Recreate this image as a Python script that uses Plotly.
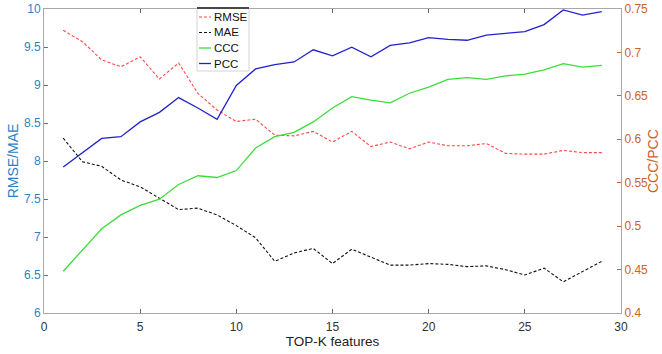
import plotly.graph_objects as go

# Number of top-K features used
k = list(range(1, 30))

# Error metrics (left axis)
rmse = [9.72, 9.57, 9.33, 9.24, 9.37, 9.08, 9.29, 8.89, 8.67, 8.52,
        8.55, 8.34, 8.33, 8.39, 8.25, 8.39, 8.19, 8.25, 8.16, 8.25,
        8.20, 8.20, 8.23, 8.10, 8.09, 8.09, 8.14, 8.11, 8.11]
mae = [8.30, 7.99, 7.93, 7.75, 7.66, 7.51, 7.36, 7.38, 7.29, 7.15,
       6.99, 6.68, 6.79, 6.85, 6.65, 6.84, 6.74, 6.63, 6.63, 6.65,
       6.64, 6.61, 6.62, 6.57, 6.50, 6.59, 6.41, 6.54, 6.68]

# Correlation metrics (right axis)
ccc = [0.448, 0.472, 0.497, 0.513, 0.524, 0.531, 0.548, 0.558, 0.556, 0.564,
       0.590, 0.603, 0.608, 0.620, 0.636, 0.649, 0.645, 0.642, 0.653, 0.660,
       0.669, 0.671, 0.669, 0.673, 0.675, 0.680, 0.687, 0.683, 0.685]
pcc = [0.568, 0.584, 0.601, 0.603, 0.620, 0.631, 0.648, 0.636, 0.623, 0.662,
       0.681, 0.686, 0.689, 0.703, 0.696, 0.706, 0.695, 0.708, 0.711, 0.717,
       0.715, 0.714, 0.720, 0.722, 0.724, 0.732, 0.749, 0.743, 0.747]

x_ticks = [0, 5, 10, 15, 20, 25, 30]
left_ticks = [6, 6.5, 7, 7.5, 8, 8.5, 9, 9.5, 10]
right_ticks = [0.4, 0.45, 0.5, 0.55, 0.6, 0.65, 0.7, 0.75]

W, H = 662, 354
ML, MR, MT, MB = 44, 41, 9, 41
PW, PH = W - ML - MR, H - MT - MB

FONT = "Liberation Sans, Arial, sans-serif"
LEFT_C = "#2f7fc8"
RIGHT_C = "#d0602a"
AXIS_C = "#a8a8a8"

series = [
    ("RMSE", rmse, "y", dict(color="#ff4646", width=1.1, dash="3px,2px")),
    ("MAE", mae, "y", dict(color="#111111", width=1.1, dash="3px,2px")),
    ("CCC", ccc, "y2", dict(color="#3ade3a", width=1.3)),
    ("PCC", pcc, "y2", dict(color="#2222cc", width=1.3)),
]

fig = go.Figure()
for name, vals, ax, line in series:
    fig.add_trace(go.Scatter(x=k, y=vals, name=name, mode="lines",
                             yaxis=ax, line=line, showlegend=False))

fig.update_layout(
    width=W, height=H,
    margin=dict(l=ML, r=MR, t=MT, b=MB),
    paper_bgcolor="white", plot_bgcolor="white",
    font=dict(family=FONT, size=12, color="#262626"),
    xaxis=dict(range=[0, 30], tickvals=x_ticks, ticks="inside", ticklen=4,
               tickcolor="#666666", showline=True, linecolor=AXIS_C,
               mirror="ticks", showgrid=False, zeroline=False, automargin=False,
               ticklabelstandoff=3,
               tickfont=dict(size=12, color="#333333"),
               title=dict(text="TOP-K features", font=dict(size=13.5, color="#222222"),
                          standoff=3)),
    yaxis=dict(range=[6, 10], tickvals=left_ticks,
               ticktext=[f"{v:g}" for v in left_ticks],
               ticks="inside", ticklen=4, tickcolor=LEFT_C,
               showline=True, linecolor=AXIS_C, showgrid=False, zeroline=False,
               automargin=False,
               tickfont=dict(size=12, color=LEFT_C),
               title=dict(text="RMSE/MAE", font=dict(size=14, color=LEFT_C),
                          standoff=2)),
    yaxis2=dict(range=[0.4, 0.75], tickvals=right_ticks,
                ticktext=[f"{v:g}" for v in right_ticks],
                overlaying="y", side="right",
                ticks="inside", ticklen=4, tickcolor=RIGHT_C,
                showline=True, linecolor=AXIS_C, showgrid=False, zeroline=False,
                automargin=False,
                tickfont=dict(size=12, color=RIGHT_C)),
)


# Paper-coordinate helpers for items placed around the axes
def px(xp):
    return (xp - ML) / PW


def py(yp):
    return (H - MB - yp) / PH


# Right-axis title close to the figure edge
fig.add_annotation(xref="paper", yref="paper", x=px(653), y=0.5,
                   xanchor="center", yanchor="middle", textangle=-90,
                   text="CCC/PCC", showarrow=False,
                   font=dict(size=14, color=RIGHT_C))

# Legend drawn as a compact box in the upper-left part of the axes
box_l, box_r, box_t, box_b = 197, 249, 8, 71
fig.add_shape(type="rect", xref="paper", yref="paper", layer="above",
              x0=px(box_l), x1=px(box_r), y0=py(box_b), y1=py(box_t),
              fillcolor="white", line=dict(color="#d4d4d4", width=1))
fig.add_shape(type="line", xref="paper", yref="paper", layer="above",
              x0=px(box_l), x1=px(box_r), y0=py(box_t), y1=py(box_t),
              line=dict(color="#111111", width=1.5))
for i, (name, _, _, line) in enumerate(series):
    yc = 17 + i * 15.5
    fig.add_shape(type="line", xref="paper", yref="paper", layer="above",
                  x0=px(199), x1=px(211), y0=py(yc), y1=py(yc), line=line)
    fig.add_annotation(xref="paper", yref="paper", x=px(212), y=py(yc),
                       xanchor="left", yanchor="middle", text=name,
                       showarrow=False, font=dict(size=11.5, color="#111111"))

fig.write_html("out.html")
